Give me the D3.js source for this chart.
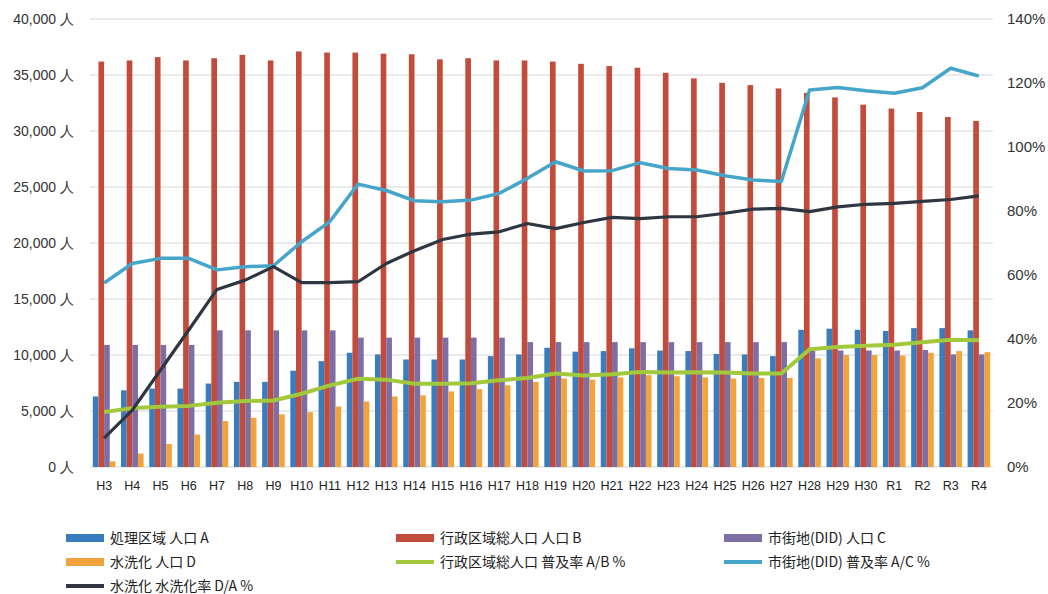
<!DOCTYPE html>
<html>

<head>
    <meta charset="utf-8">
    <style>
        body {
            margin: 0;
            background: #fff;
            font-family: "Noto Sans CJK JP", "Noto Sans", sans-serif;
        }

        .grid line {
            stroke: #d6d6d6;
            stroke-width: 1;
        }

        .axis text {
            font-size: 14px;
            fill: #333;
        }

        .right text {
            font-size: 15px;
        }

        .x text {
            font-size: 12.5px;
            font-weight: 500;
            fill: #222;
        }

        .legend text {
            font-size: 14px;
            fill: #222;
        }
    </style>
</head>

<body>
    <svg width="1048" height="594"></svg>

    <script src="https://d3js.org/d3.v7.min.js"></script>
    <script>
        // categories (fiscal years)
        let years = ["H3", "H4", "H5", "H6", "H7", "H8", "H9", "H10", "H11", "H12", "H13", "H14", "H15", "H16",
            "H17", "H18", "H19", "H20", "H21", "H22", "H23", "H24", "H25", "H26", "H27", "H28", "H29", "H30",
            "R1", "R2", "R3", "R4"]

        // 処理区域 人口 A
        let popA = [6300, 6850, 7000, 7000, 7450, 7600, 7600, 8600, 9450, 10200, 10050, 9600, 9600, 9600,
            9900, 10050, 10650, 10300, 10350, 10600, 10400, 10350, 10100, 10050, 9900, 12250, 12350, 12250,
            12150, 12400, 12400, 12200]
        // 行政区域総人口 人口 B
        let popB = [36200, 36300, 36600, 36300, 36500, 36800, 36300, 37100, 37000, 37000, 36900, 36850, 36400, 36500,
            36300, 36300, 36200, 36000, 35800, 35650, 35200, 34700, 34300, 34100, 33800, 33400, 33000, 32350,
            32000, 31700, 31250, 30900]
        // 市街地(DID) 人口 C
        let popC = [10900, 10900, 10900, 10900, 12200, 12200, 12200, 12200, 12200, 11550, 11550, 11550, 11550, 11550,
            11550, 11150, 11150, 11150, 11150, 11150, 11150, 11150, 11150, 11150, 11150, 10400, 10400, 10400,
            10400, 10450, 10050, 10050]
        // 水洗化 人口 D
        let popD = [500, 1200, 2050, 2900, 4100, 4400, 4700, 4900, 5400, 5850, 6300, 6400, 6750, 6950,
            7300, 7600, 7900, 7800, 8000, 8200, 8100, 8000, 7900, 7950, 7950, 9700, 10000, 10000,
            9950, 10200, 10350, 10250]

        // 普及率 A/B (%)
        let rateAB = [17.2, 18.4, 18.8, 19.1, 20.1, 20.6, 20.8, 22.9, 25.5, 27.6, 27.3, 26.0, 26.0, 26.2,
            27.1, 27.8, 29.2, 28.6, 29.0, 29.7, 29.5, 29.6, 29.5, 29.2, 29.2, 36.8, 37.5, 37.9,
            38.2, 39.0, 39.8, 39.6]
        // 普及率 A/C (%)
        let rateAC = [57.5, 63.6, 65.2, 65.2, 61.6, 62.6, 62.9, 70.4, 76.7, 88.4, 86.4, 83.2, 82.9, 83.4,
            85.5, 90.2, 95.4, 92.5, 92.6, 95.1, 93.3, 92.8, 91.0, 89.7, 89.2, 117.8, 118.6, 117.6,
            116.8, 118.5, 124.6, 122.2]
        // 水洗化率 D/A (%)
        let rateDA = [9.0, 17.8, 30.3, 42.8, 55.5, 58.4, 62.6, 57.6, 57.6, 57.9, 63.6, 67.6, 71.1, 72.8,
            73.5, 76.1, 74.5, 76.4, 78.0, 77.6, 78.2, 78.2, 79.3, 80.6, 80.8, 79.8, 81.3, 82.1,
            82.4, 83.0, 83.6, 84.7]

        let leftTicks = [0, 5000, 10000, 15000, 20000, 25000, 30000, 35000, 40000]
        let rightTicks = [0, 20, 40, 60, 80, 100, 120, 140]

        let barNames = ["処理区域 人口 A", "行政区域総人口 人口 B", "市街地(DID) 人口 C", "水洗化 人口 D"]
        let barColors = ["#3a7dbf", "#c24b3b", "#7d6ea3", "#f2a43c"]
        let lineNames = ["行政区域総人口 普及率 A/B  %", "市街地(DID) 普及率 A/C  %", "水洗化 水洗化率 D/A  %"]
        let lineColors = ["#a2c83c", "#45a6ca", "#2e3741"]

        let svg = d3.select("svg")

        let margin = { top: 19, bottom: 127, left: 90, right: 55 }
        let width = 1048, height = 594

        let x = d3.scaleBand()
            .domain(years)
            .range([margin.left, width - margin.right])
            .paddingInner(0.2)
            .paddingOuter(0.1)

        let xInner = d3.scaleBand()
            .domain(d3.range(4))
            .range([0, x.bandwidth()])

        let y = d3.scaleLinear()
            .domain([0, 40000])
            .range([height - margin.bottom, margin.top])

        let yR = d3.scaleLinear()
            .domain([0, 140])
            .range([height - margin.bottom, margin.top])

        // gridlines
        svg.append("g")
            .attr("class", "grid")
            .selectAll("line")
            .data(leftTicks)
            .join("line")
            .attr("x1", margin.left)
            .attr("x2", width - margin.right)
            .attr("y1", d => y(d))
            .attr("y2", d => y(d))

        // left axis
        svg.append("g")
            .attr("class", "axis")
            .attr("transform", `translate(${margin.left - 16},0)`)
            .call(d3.axisLeft(y).tickValues(leftTicks).tickSize(0).tickPadding(0)
                .tickFormat(d => d3.format(",")(d) + " 人"))
            .call(g => g.select(".domain").remove())

        // right axis
        svg.append("g")
            .attr("class", "axis right")
            .attr("transform", `translate(${width - margin.right + 14},0)`)
            .call(d3.axisRight(yR).tickValues(rightTicks).tickSize(0).tickPadding(0)
                .tickFormat(d => d + "%"))
            .call(g => g.select(".domain").remove())

        // x axis labels
        svg.append("g")
            .attr("class", "axis x")
            .attr("transform", `translate(0,${height - margin.bottom + 8})`)
            .call(d3.axisBottom(x).tickSize(0).tickPadding(6))
            .call(g => g.select(".domain").remove())

        // bars
        let barSeries = [popA, popB, popC, popD]
        barSeries.forEach(function (vals, i) {
            svg.append("g")
                .selectAll("rect")
                .data(vals)
                .join("rect")
                .attr("x", (d, j) => x(years[j]) + xInner(i))
                .attr("width", xInner.bandwidth())
                .attr("y", d => y(d))
                .attr("height", d => y(0) - y(d))
                .attr("fill", barColors[i])
        })

        // lines
        let line = d3.line()
            .x((d, j) => x(years[j]) + x.bandwidth() / 2)
            .y(d => yR(d))

        let lineSeries = [rateAB, rateAC, rateDA]
        let lineWidths = [4, 3.5, 3.2]
        lineSeries.forEach(function (vals, i) {
            svg.append("path")
                .datum(vals)
                .attr("fill", "none")
                .attr("stroke", lineColors[i])
                .attr("stroke-width", lineWidths[i])
                .attr("stroke-linejoin", "round")
                .attr("d", line)
        })

        // legend
        let legendItems = [
            { name: barNames[0], color: barColors[0], type: "bar" },
            { name: barNames[1], color: barColors[1], type: "bar" },
            { name: barNames[2], color: barColors[2], type: "bar" },
            { name: barNames[3], color: barColors[3], type: "bar" },
            { name: lineNames[0], color: lineColors[0], type: "line" },
            { name: lineNames[1], color: lineColors[1], type: "line" },
            { name: lineNames[2], color: lineColors[2], type: "line" }
        ]
        let colX = [66, 396, 724]
        let rowY = [538, 562, 586]

        let legend = svg.append("g").attr("class", "legend")
        legendItems.forEach(function (d, i) {
            let lx = colX[i % 3], ly = rowY[Math.floor(i / 3)]
            if (d.type == "bar") {
                legend.append("rect")
                    .attr("x", lx).attr("y", ly - 4)
                    .attr("width", 38).attr("height", 8)
                    .attr("fill", d.color)
            } else {
                legend.append("line")
                    .attr("x1", lx).attr("x2", lx + 38)
                    .attr("y1", ly).attr("y2", ly)
                    .attr("stroke", d.color)
                    .attr("stroke-width", 4)
            }
            legend.append("text")
                .attr("x", lx + 44)
                .attr("y", ly)
                .attr("dy", "0.35em")
                .text(d.name)
        })
    </script>
</body>

</html>
